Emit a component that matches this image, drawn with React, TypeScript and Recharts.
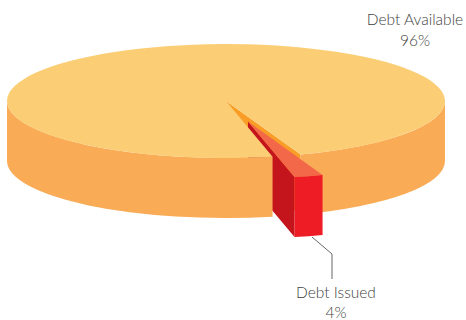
import React from "react";
import { PieChart, Pie } from "recharts";

const sliceNames = ["Debt Issued", "Debt Available"];
const sliceValues = [4, 96];
const rows = sliceNames.map((name, i) => ({ name, value: sliceValues[i] }));

const W = 466;
const H = 320;
const CX = 226;
const CY = 101;
const RX = 219;
const RY = 57;
const DEPTH = 60;
const EXPLODE = 30;
const START = -35.7;

const TOP = "#FBCE76";
const SIDE = "#F9AB56";
const NOTCH = "#F99D26";
const RED_TOP = "#F4684A";
const RED_FRONT = "#EE1C25";
const RED_LEFT = "#C4141C";
const TEXT = "#3F3F41";
const FONT = "Lato, sans-serif";

type Pt = { x: number; y: number };

// Point on the flattened rim, at a screen angle measured from the centre.
function rim(deg: number, cx: number, cy: number, rx: number, ry: number): Pt {
  const a = (-deg * Math.PI) / 180;
  const c = Math.cos(a);
  const s = Math.sin(a);
  const r = 1 / Math.sqrt((c * c) / (rx * rx) + (s * s) / (ry * ry));
  return { x: cx + r * c, y: cy + r * s };
}

function explodeOffset(mid: number): Pt {
  const a = (-mid * Math.PI) / 180;
  return { x: EXPLODE * Math.cos(a), y: EXPLODE * Math.sin(a) };
}

const poly = (pts: Pt[]) => pts.map((p, i) => `${i ? "L" : "M"}${p.x} ${p.y}`).join(" ") + " Z";

// Wall below a rim stretch; both ends must lie on the lower half of the ellipse.
function wall(a: Pt, b: Pt, rx: number, ry: number) {
  return `M${a.x} ${a.y} A${rx} ${ry} 0 0 0 ${b.x} ${b.y} L${b.x} ${b.y + DEPTH} A${rx} ${ry} 0 0 1 ${a.x} ${a.y + DEPTH} Z`;
}

function BackLayer(p: any) {
  const { cx, cy, outerRadius, startAngle, endAngle, index } = p;
  const rx = outerRadius;
  if (index === 0) {
    // Cut faces seen through the gap the pulled-out slice leaves behind.
    const apex = { x: cx, y: cy };
    const right = rim(startAngle, cx, cy, rx, RY);
    const left = rim(endAngle, cx, cy, rx, RY);
    const o = explodeOffset((startAngle + endAngle) / 2);
    const a = { x: apex.x + o.x, y: apex.y + o.y };
    const l = { x: left.x + o.x, y: left.y + o.y };
    return (
      <g>
        <path fill={NOTCH} d={poly([apex, right, { x: right.x, y: right.y + DEPTH }, { x: cx, y: cy + DEPTH }])} />
        <path fill={RED_LEFT} d={poly([a, l, { x: l.x, y: l.y + DEPTH }, { x: a.x, y: a.y + DEPTH }])} />
      </g>
    );
  }
  const from = rim(startAngle, cx, cy, rx, RY);
  const to = rim(endAngle, cx, cy, rx, RY);
  const leftTip = rim(-180, cx, cy, rx, RY);
  const rightTip = rim(0, cx, cy, rx, RY);
  return (
    <g>
      <path fill={SIDE} d={wall(leftTip, from, rx, RY)} />
      <path fill={SIDE} d={wall(to, rightTip, rx, RY)} />
      <path
        fill={TOP}
        d={`M${cx} ${cy} L${from.x} ${from.y} A${rx} ${RY} 0 1 1 ${to.x} ${to.y} Z`}
      />
    </g>
  );
}

function FrontLayer(p: any) {
  const { cx, cy, outerRadius, startAngle, endAngle, index, name, value } = p;
  const rx = outerRadius;
  if (index !== 0) {
    return (
      <text fontFamily={FONT} fontWeight={300} fontSize={15.5} fill={TEXT} textAnchor="middle">
        <tspan x={415} y={25}>{name}</tspan>
        <tspan x={415} y={45.5}>{value}%</tspan>
      </text>
    );
  }
  const o = explodeOffset((startAngle + endAngle) / 2);
  const right = rim(startAngle, cx + o.x, cy + o.y, rx, RY);
  const left = rim(endAngle, cx + o.x, cy + o.y, rx, RY);
  return (
    <g>
      <path
        fill={RED_TOP}
        d={`M${cx + o.x} ${cy + o.y} L${right.x} ${right.y} A${rx} ${RY} 0 0 1 ${left.x} ${left.y} Z`}
      />
      <path fill={RED_FRONT} d={wall(left, right, rx, RY)} />
      <polyline points="312,237 332,254 332,279" fill="none" stroke="#3F3F41" strokeWidth={0.8} />
      <text fontFamily={FONT} fontWeight={300} fontSize={15.5} fill={TEXT} textAnchor="middle">
        <tspan x={336} y={298}>{name}</tspan>
        <tspan x={336} y={317.5}>{value}%</tspan>
      </text>
    </g>
  );
}

export default function App() {
  const pieProps = {
    data: rows,
    dataKey: "value",
    nameKey: "name",
    cx: CX,
    cy: CY,
    innerRadius: 0,
    outerRadius: RX,
    startAngle: START,
    endAngle: START - 360,
    stroke: "none",
    isAnimationActive: false,
    labelLine: false,
    label: false,
  };
  return (
    <div style={{ position: "absolute", left: 0, top: 0, width: W, height: H }}>
      <PieChart width={W} height={H} margin={{ top: 0, right: 0, bottom: 0, left: 0 }}>
        <Pie {...pieProps} shape={(p: any) => <BackLayer {...p} />} />
        <Pie {...pieProps} shape={(p: any) => <FrontLayer {...p} />} />
      </PieChart>
    </div>
  );
}
